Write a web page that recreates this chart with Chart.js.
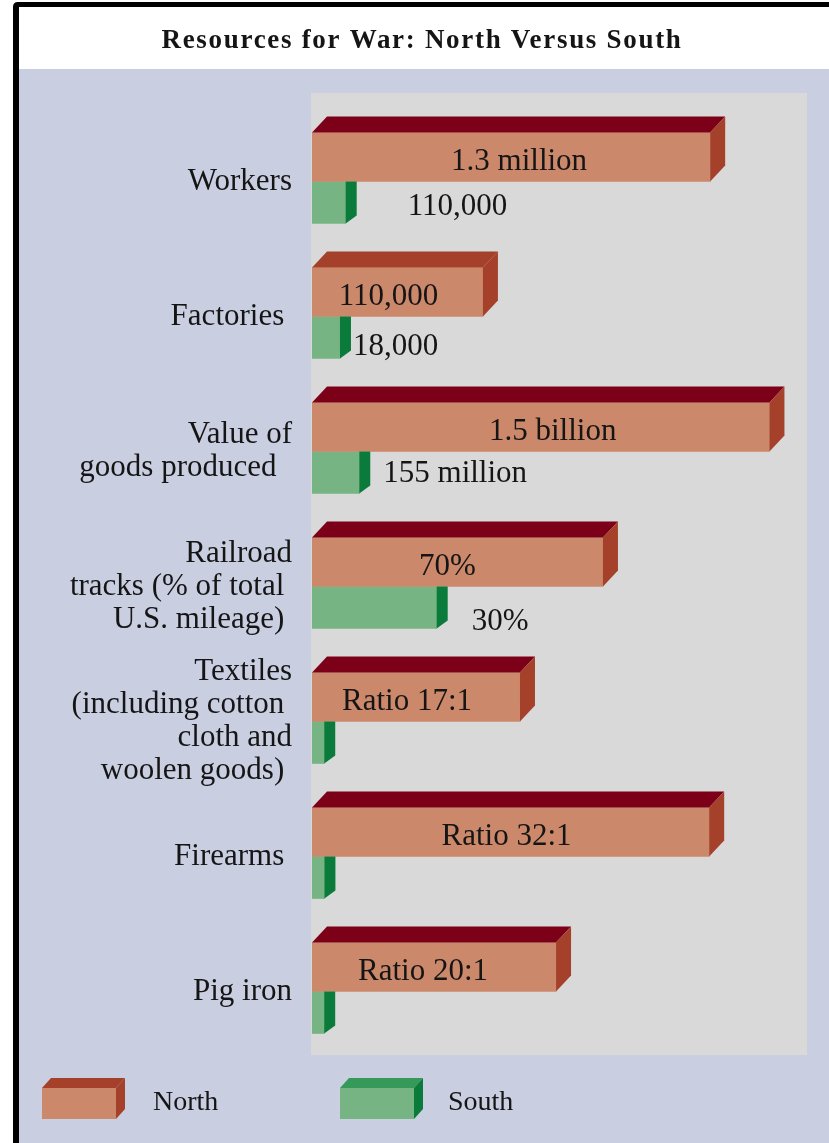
<!DOCTYPE html>
<html>
<head>
<meta charset="utf-8">
<title>Resources for War: North Versus South</title>
<script src="https://cdn.jsdelivr.net/npm/chart.js@4/dist/chart.umd.min.js"></script>
<style>
html,body{margin:0;padding:0;background:#fff;}
#wrap{position:relative;width:829px;height:1143px;}
</style>
</head>
<body>
<div id="wrap"><canvas id="warChart" width="829" height="1143"></canvas></div>
<script>
// trailing spaces keep the ragged right edge of the row labels
const categories=[
    ["Workers"],
    ["Factories "],
    ["Value of","goods produced  "],
    ["Railroad","tracks (% of total ","U.S. mileage) "],
    ["Textiles","(including cotton ","cloth and","woolen goods) "],
    ["Firearms "],
    ["Pig iron"]
];
const northValues=[1300000,110000,1500000000,70,17,32,20];
const southValues=[110000,18000,155000000,30,1,1,1];
const northLabels=["1.3 million","110,000","1.5 billion","70%","Ratio 17:1","Ratio 32:1","Ratio 20:1"];
const southLabels=["110,000","18,000","155 million","30%","","",""];
// every row has its own scale: North gets this length on the axis,
// South is drawn at the same ratio as the real figures
const northLength=[80.6,34.6,92.6,58.9,42.1,80.4,49.4];

const southLength=southValues.map((v,i)=>northLength[i]*v/northValues[i]);

const SERIF='"Liberation Serif","Times New Roman",Times,serif';
const INK='#151515';
const DEPTH={dx:15,dy:16,southDx:11,southDy:8};
// hand placed value labels
const northNudge=[8,-9,12,-10,-9,-4,-11];
const southPlace=[[51,33],[2,38],[13,30],[24,43]];

const faceColors=[
    {front:'#cb886a',top:'#7d0019',side:'#a5412a',legendTop:'#a5412a',legendSide:'#a5412a'},
    {front:'#76b483',top:'#35995a',side:'#0a7b3a',legendTop:'#35995a',legendSide:'#0a7b3a'}
];

const poly=(ctx,pts,color)=>{
    ctx.beginPath();
    ctx.moveTo(pts[0][0],pts[0][1]);
    for(let i=1;i<pts.length;i++) ctx.lineTo(pts[i][0],pts[i][1]);
    ctx.closePath();
    ctx.fillStyle=color;
    ctx.fill();
};

const chromePlugin={
    id:'chrome',
    beforeDraw(chart){
        const ctx=chart.ctx;
        ctx.save();
        ctx.fillStyle='#fff';
        ctx.fillRect(0,0,829,1143);
        // frame
        ctx.fillStyle='#000';
        ctx.beginPath();
        ctx.moveTo(829,2);
        ctx.lineTo(18,2);
        ctx.quadraticCurveTo(13,2,13,7);
        ctx.lineTo(13,1143);
        ctx.lineTo(19,1143);
        ctx.lineTo(19,7);
        ctx.lineTo(829,7);
        ctx.closePath();
        ctx.fill();
        ctx.fillStyle='#c9cee1';
        ctx.fillRect(19,69,810,1074);
        ctx.fillStyle='#d9d9d9';
        ctx.fillRect(311,93,496,962);
        // title
        ctx.fillStyle=INK;
        ctx.font='bold 27px '+SERIF;
        ctx.letterSpacing='1.7px';
        ctx.textAlign='center';
        ctx.textBaseline='alphabetic';
        ctx.fillText('Resources for War: North Versus South',422,47.5);
        ctx.restore();
    },
    afterDatasetsDraw(chart){
        const ctx=chart.ctx;
        ctx.save();
        const north=chart.getDatasetMeta(0).data;
        const south=chart.getDatasetMeta(1).data;
        north.forEach((bar,i)=>{
            const p=bar.getProps(['x','y','base','height'],true);
            const top=p.y-p.height/2, bottom=p.y+p.height/2;
            const c=faceColors[0];
            // the Factories bar has a brick coloured lid
            const lid=i===1?c.side:c.top;
            poly(ctx,[[p.base,top],[p.base+DEPTH.dx,top-DEPTH.dy],[p.x+DEPTH.dx,top-DEPTH.dy],[p.x,top]],lid);
            poly(ctx,[[p.x,top],[p.x+DEPTH.dx,top-DEPTH.dy],[p.x+DEPTH.dx,bottom-DEPTH.dy],[p.x,bottom]],c.side);
        });
        south.forEach(bar=>{
            const p=bar.getProps(['x','y','base','height'],true);
            const top=p.y-p.height/2, bottom=p.y+p.height/2;
            poly(ctx,[[p.x,top],[p.x+DEPTH.southDx,top],[p.x+DEPTH.southDx,bottom-DEPTH.southDy],[p.x,bottom]],faceColors[1].side);
        });

        ctx.fillStyle=INK;
        ctx.font='31px '+SERIF;
        ctx.textBaseline='alphabetic';
        north.forEach((bar,i)=>{
            const p=bar.getProps(['x','y','base'],true);
            ctx.textAlign='center';
            ctx.fillText(northLabels[i],(p.x+p.base)/2+northNudge[i],p.y+13);
        });
        south.forEach((bar,i)=>{
            if(!southLabels[i]) return;
            const p=bar.getProps(['x','y','height'],true);
            const junction=p.y-p.height/2;
            ctx.textAlign='left';
            ctx.fillText(southLabels[i],p.x+DEPTH.southDx+southPlace[i][0],junction+southPlace[i][1]);
        });
        ctx.restore();
    },
    afterDraw(chart){
        const ctx=chart.ctx;
        ctx.save();
        const boxX=[42,340], textX=[153,448];
        chart.data.datasets.forEach((ds,i)=>{
            const c=faceColors[i], x=boxX[i], y=1088, w=74, h=31, dx=9, dy=10;
            poly(ctx,[[x,y],[x+dx,y-dy],[x+w+dx,y-dy],[x+w,y]],c.legendTop);
            poly(ctx,[[x+w,y],[x+w+dx,y-dy],[x+w+dx,y+h-dy],[x+w,y+h]],c.legendSide);
            ctx.fillStyle=c.front;
            ctx.fillRect(x,y,w,h);
            ctx.fillStyle=INK;
            ctx.font='28px '+SERIF;
            ctx.textAlign='left';
            ctx.textBaseline='alphabetic';
            ctx.fillText(ds.label,textX[i],1110);
        });
        ctx.restore();
    }
};

new Chart(document.getElementById('warChart'),{
    type:'bar',
    data:{
        labels:categories,
        datasets:[
            {label:'North',data:northLength,backgroundColor:faceColors[0].front,barThickness:49,borderWidth:0},
            {label:'South',data:southLength,backgroundColor:faceColors[1].front,barThickness:42,borderWidth:0}
        ]
    },
    options:{
        indexAxis:'y',
        responsive:false,
        animation:false,
        layout:{padding:{left:0,right:23,top:114,bottom:84}},
        plugins:{legend:{display:false},tooltip:{enabled:false},title:{display:false}},
        scales:{
            x:{display:false,min:0,max:100},
            y:{
                grid:{display:false,drawTicks:false},
                border:{display:false},
                ticks:{color:INK,padding:20,autoSkip:false,font:{family:SERIF,size:31,lineHeight:1.065}},
                afterFit:s=>{s.width=312;}
            }
        }
    },
    plugins:[chromePlugin]
});
</script>
</body>
</html>
